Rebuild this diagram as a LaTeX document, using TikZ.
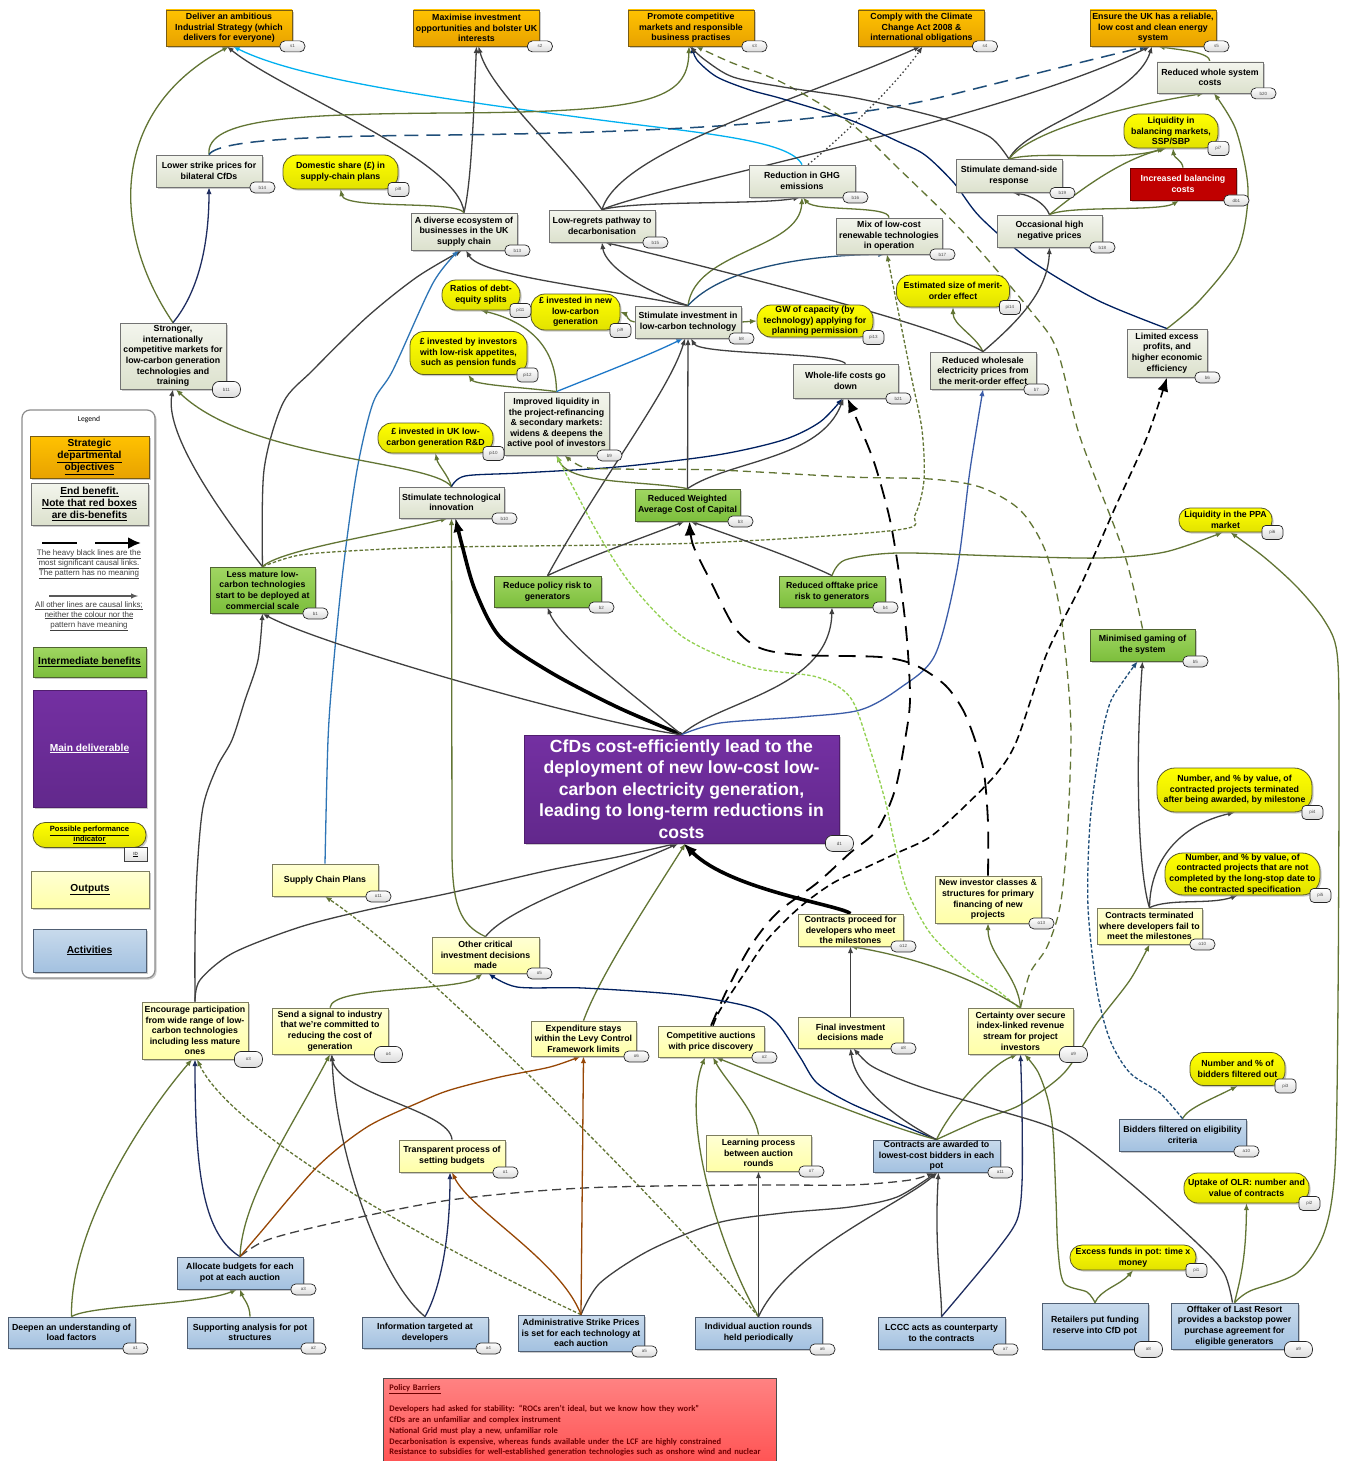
\documentclass[tikz,border=0pt]{standalone}
\usepackage{fontspec}
\setmainfont{Liberation Sans}
\newfontfamily\calibri{Carlito}
\usetikzlibrary{arrows.meta,shadows,backgrounds}

\begin{document}
\begin{tikzpicture}[x=1pt,y=-1pt]
            \definecolor{obj_top}{RGB}{255,194,0}
            \definecolor{obj_bot}{RGB}{232,162,0}
            \definecolor{obj_line}{RGB}{120,92,20}
            \definecolor{eb_top}{RGB}{243,245,237}
            \definecolor{eb_bot}{RGB}{220,225,205}
            \definecolor{eb_line}{RGB}{115,115,115}
            \definecolor{ib_top}{RGB}{160,214,98}
            \definecolor{ib_bot}{RGB}{124,190,60}
            \definecolor{ib_line}{RGB}{80,100,50}
            \definecolor{pi_top}{RGB}{255,255,0}
            \definecolor{pi_bot}{RGB}{226,226,0}
            \definecolor{pi_line}{RGB}{90,90,40}
            \definecolor{op_top}{RGB}{255,255,212}
            \definecolor{op_bot}{RGB}{255,255,168}
            \definecolor{op_line}{RGB}{125,125,95}
            \definecolor{ac_top}{RGB}{200,218,236}
            \definecolor{ac_bot}{RGB}{163,193,224}
            \definecolor{ac_line}{RGB}{80,95,115}
            \definecolor{db_fill}{RGB}{192,0,0}
            \definecolor{db_line}{RGB}{110,0,0}
            \definecolor{md_top}{RGB}{116,48,162}
            \definecolor{md_bot}{RGB}{98,40,140}
            \definecolor{md_line}{RGB}{80,30,110}
            \definecolor{pb_top}{RGB}{255,130,130}
            \definecolor{pb_bot}{RGB}{255,84,84}
            \definecolor{pb_text}{RGB}{110,0,0}
            \definecolor{c_dgray}{RGB}{64,64,64}
            \definecolor{c_olive}{RGB}{98,117,52}
            \definecolor{c_navy}{RGB}{31,45,96}
            \definecolor{c_dnavy}{RGB}{0,32,96}
            \definecolor{c_lblue}{RGB}{0,176,240}
            \definecolor{c_sblue}{RGB}{46,117,182}
            \definecolor{c_bblue}{RGB}{30,120,200}
            \definecolor{c_steel}{RGB}{31,78,121}
            \definecolor{c_mblue}{RGB}{59,92,168}
            \definecolor{c_brown}{RGB}{151,71,6}
            \definecolor{c_lgreen}{RGB}{146,208,80}
            \tikzstyle{cbox} = [rectangle, align=center, inner sep=1pt, minimum width=106, line width=0.8pt,
                font=\fontsize{8.8}{10.6}\selectfont\bfseries,
                drop shadow={shadow xshift=1.6pt, shadow yshift=-1.6pt, fill=black!40, opacity=0.5}]
            \tikzstyle{sobj} = [cbox, draw=obj_line, top color=obj_top, bottom color=obj_bot, minimum width=126, minimum height=36]
            \tikzstyle{eben} = [cbox, draw=eb_line, top color=eb_top, bottom color=eb_bot, minimum height=32]
            \tikzstyle{iben} = [cbox, draw=ib_line, top color=ib_top, bottom color=ib_bot, minimum height=32]
            \tikzstyle{dben} = [cbox, draw=db_line, fill=db_fill, text=white, minimum height=32]
            \tikzstyle{mdel} = [cbox, draw=md_line, top color=md_top, bottom color=md_bot, text=white,
                font=\fontsize{17.6}{21.5}\selectfont\bfseries]
            \tikzstyle{pind} = [cbox, draw=pi_line, rounded corners=14pt, top color=pi_top, bottom color=pi_bot]
            \tikzstyle{outp} = [cbox, draw=op_line, top color=op_top, bottom color=op_bot, minimum height=32]
            \tikzstyle{actv} = [cbox, draw=ac_line, top color=ac_top, bottom color=ac_bot, minimum width=127, minimum height=32]
            \tikzstyle{idt} = [draw=black!85, line width=0.7pt, rounded corners=5pt, top color=white, bottom color=black!14,
                minimum width=25, minimum height=11, inner sep=0pt, font=\fontsize{4.5}{5}\selectfont, text=black!70]
            \tikzstyle{legf} = [font=\fontsize{10.2}{12.3}\selectfont\bfseries]
            \tikzstyle{lnk} = [line width=1.3pt, -latex]
            \tikzstyle{hvy} = [line width=3.6pt, black, -latex]
            \tikzstyle{bigdash} = [line width=1.8pt, black, dash pattern=on 17pt off 10pt, -{Latex[length=14pt,width=11pt]}]
            \tikzstyle{meddash} = [line width=1.6pt, black, dash pattern=on 8pt off 4.5pt, -{Latex[length=14pt,width=11pt]}]
            \tikzstyle{dsh} = [dash pattern=on 8pt off 5pt]
            \tikzstyle{dtt} = [dash pattern=on 3.5pt off 2pt]
            \tikzstyle{longdsh} = [dash pattern=on 14pt off 8pt]
            \useasboundingbox (0,0) rectangle (1347,1461);

            % strategic objectives
            \node[sobj] (s1) at (229,28) {Deliver an ambitious\\Industrial Strategy (which\\delivers for everyone)};
            \node[sobj] (s2) at (476.5,28) {Maximise investment\\opportunities and bolster UK\\interests};
            \node[sobj] (s3) at (691,28) {Promote competitive\\markets and responsible\\business practises};
            \node[sobj] (s4) at (921.5,28) {Comply with the Climate\\Change Act 2008 \&\\international obligations};
            \node[sobj] (s5) at (1153,28) {Ensure the UK has a reliable,\\low cost and clean energy\\system};

            % benefits and indicators
            \node[eben, minimum height=31] (b20) at (1210,77.5) {Reduced whole system\\costs};
            \node[eben] (b14) at (209,171) {Lower strike prices for\\bilateral CfDs};
            \node[pind, minimum width=115, minimum height=34] (pi8) at (340.5,172) {Domestic share (£) in\\supply-chain plans};
            \node[eben, minimum height=37] (b13) at (464,231.5) {A diverse ecosystem of\\businesses in the UK\\supply chain};
            \node[eben] (b15) at (602,226) {Low-regrets pathway to\\decarbonisation};
            \node[eben] (b16) at (802,181) {Reduction in GHG\\emissions};
            \node[eben, minimum height=36] (b17) at (889,236) {Mix of low-cost\\renewable technologies\\in operation};
            \node[eben, minimum height=33] (b19) at (1009,176) {Stimulate demand-side\\response};
            \node[pind, minimum width=94, minimum height=34] (pi7) at (1171,131) {Liquidity in\\balancing markets,\\SSP/SBP};
            \node[dben] (db1) at (1183,184) {Increased balancing\\costs};
            \node[eben, minimum width=105] (b18) at (1049.5,231) {Occasional high\\negative prices};
            \node[pind, minimum width=113, minimum height=32] (pi14) at (953,291) {Estimated size of merit-\\order effect};
            \node[eben, minimum height=37] (b7) at (983,370.5) {Reduced wholesale\\electricity prices from\\the merit-order effect};
            \node[eben, minimum width=80, minimum height=48] (b6) at (1167,353) {Limited excess\\profits, and\\higher economic\\efficiency};
            \node[eben, minimum height=66] (b11) at (173,356) {Stronger,\\internationally\\competitive markets for\\low-carbon generation\\technologies and\\training};
            \node[pind, minimum width=78, minimum height=30] (pi11) at (481,295) {Ratios of debt-\\equity splits};
            \node[pind, minimum width=89, minimum height=36] (pi9) at (575.5,312) {£ invested in new\\low-carbon\\generation};
            \node[eben] (b8) at (688,322) {Stimulate investment in\\low-carbon technology};
            \node[pind, minimum width=116, minimum height=32] (pi13) at (815,321) {GW of capacity (by\\technology) applying for\\planning permission};
            \node[pind, minimum width=117, minimum height=43] (pi12) at (468.5,353) {£ invested by investors\\with low-risk appetites,\\such as pension funds};
            \node[eben, minimum width=105, minimum height=34] (b21) at (845.5,381) {Whole-life costs go\\down};
            \node[eben, minimum width=105, minimum height=63] (b9) at (556.5,423.5) {Improved liquidity in\\the project-refinancing\\\& secondary markets:\\widens \& deepens the\\active pool of investors};
            \node[pind, minimum width=115, minimum height=30] (pi10) at (435.5,438) {£ invested in UK low-\\carbon generation R\&D};
            \node[eben, minimum width=105, minimum height=31] (b10) at (451.5,502.5) {Stimulate technological\\innovation};
            \node[iben, minimum width=105] (b3) at (687.5,505) {Reduced Weighted\\Average Cost of Capital};
            \node[pind, minimum width=93, minimum height=24, rounded corners=11pt] (pi6) at (1225.5,520) {Liquidity in the PPA\\market};
            \node[iben, minimum width=105, minimum height=46] (b1) at (262.5,590) {Less mature low-\\carbon technologies\\start to be deployed at\\commercial scale};
            \node[iben, minimum width=107, minimum height=31] (b2) at (547.5,591.5) {Reduce policy risk to\\generators};
            \node[iben, minimum height=31] (b4) at (832,591.5) {Reduced offtake price\\risk to generators};
            \node[iben, minimum width=105] (b5) at (1142.5,645) {Minimised gaming of\\the system};
            \node[pind, minimum width=155, minimum height=44, rounded corners=18pt] (pi4) at (1234.5,790) {Number, and \% by value, of\\contracted projects terminated\\after being awarded, by milestone};
            \node[mdel, minimum width=315, minimum height=108] (d1) at (681.5,789) {CfDs cost-efficiently lead to the\\deployment of new low-cost low-\\carbon electricity generation,\\leading to long-term reductions in\\costs};
            \node[pind, minimum width=155, minimum height=42, rounded corners=18pt] (pi5) at (1242.5,874) {Number, and \% by value, of\\contracted projects that are not\\completed by the long-stop date to\\the contracted specification};

            % outputs
            \node[outp] (o11) at (325,880) {Supply Chain Plans};
            \node[outp, minimum height=47] (o13) at (988,899.5) {New investor classes \&\\structures for primary\\financing of new\\projects};
            \node[outp, minimum width=105] (o12) at (850.5,930) {Contracts proceed for\\developers who meet\\the milestones};
            \node[outp, minimum width=105, minimum height=36] (o10) at (1149.5,926) {Contracts terminated\\where developers fail to\\meet the milestones};
            \node[outp, minimum width=107, minimum height=36] (o5) at (485.5,955) {Other critical\\investment decisions\\made};
            \node[outp, minimum height=57] (o3) at (195,1030.5) {Encourage participation\\from wide range of low-\\carbon technologies\\including less mature\\ones};
            \node[outp, minimum width=116, minimum height=46] (o4) at (330,1031) {Send a signal to industry\\that we're committed to\\reducing the cost of\\generation};
            \node[outp, minimum width=105, minimum height=35] (o6) at (583.5,1038.5) {Expenditure stays\\within the Levy Control\\Framework limits};
            \node[outp, minimum height=31] (o2) at (711,1041.5) {Competitive auctions\\with price discovery};
            \node[outp, minimum width=105, minimum height=31] (o8) at (850.5,1032.5) {Final investment\\decisions made};
            \node[outp, minimum width=105, minimum height=46] (o9) at (1020.5,1031) {Certainty over secure\\index-linked revenue\\stream for project\\investors};
            \node[pind, minimum width=95, minimum height=33] (pi3) at (1237.5,1069) {Number and \% of\\bidders filtered out};
            \node[outp] (o1) at (452,1156) {Transparent process of\\setting budgets};
            \node[outp, minimum width=105, minimum height=36] (o7) at (758.5,1153) {Learning process\\between auction\\rounds};

            % activities
            \node[actv] (a10) at (1182.5,1135) {Bidders filtered on eligibility\\criteria};
            \node[actv] (a11) at (936.5,1156) {Contracts are awarded to\\lowest-cost bidders in each\\pot};
            \node[pind, minimum width=125, minimum height=30] (pi2) at (1246.5,1188) {Uptake of OLR: number and\\value of contracts};
            \node[pind, minimum width=126, minimum height=25, rounded corners=12pt] (pi1) at (1133,1257.5) {Excess funds in pot: time x\\money};
            \node[actv, minimum width=126] (a3) at (240,1273) {Allocate budgets for each\\pot at each auction};
            \node[actv, minimum height=31] (a1) at (71.5,1332.5) {Deepen an understanding of\\load factors};
            \node[actv, minimum width=126, minimum height=31] (a2) at (250,1332.5) {Supporting analysis for pot\\structures};
            \node[actv, minimum width=126, minimum height=31] (a4) at (425,1332.5) {Information targeted at\\developers};
            \node[actv, minimum width=126, minimum height=36] (a5) at (581,1333) {Administrative Strike Prices\\is set for each technology at\\each auction};
            \node[actv] (a6) at (758.5,1333) {Individual auction rounds\\held periodically};
            \node[actv] (a7) at (941.5,1333) {LCCC acts as counterparty\\to the contracts};
            \node[actv, minimum width=106, minimum height=46] (a8) at (1095,1326) {Retailers put funding\\reserve into CfD pot};
            \node[actv, minimum height=46] (a9) at (1234.5,1326) {Offtaker of Last Resort\\provides a backstop power\\purchase agreement for\\eligible generators};

            % id tags
            \foreach \n in {s1,s2,s3,s4,s5,b1,b2,b3,b4,b5,b6,b7,b8,b9,b10,b13,b14,b15,b16,b17,b18,b19,b20,b21,db1,
                o1,o2,o5,o6,o7,o8,o10,o11,o12,o13,a1,a2,a3,a4,a5,a6,a7,a10,a11}
                \node[idt] (t\n) at (\n.south east) {\n};
            \foreach \n in {b11,o3,o4,o9,a8,a9,d1}
                \node[idt, minimum width=28, minimum height=16, rounded corners=7pt] (t\n) at (\n.south east) {\n};
            \foreach \n in {pi1,pi2,pi3,pi4,pi5,pi6,pi7,pi8,pi9,pi10,pi11,pi12,pi13,pi14}
                \node[idt, minimum width=21, minimum height=14, rounded corners=4pt] (t\n) at (\n.south east) {\n};

            % legend
            \node[draw=black!45, line width=1.2pt, fill=white, rounded corners=8pt, minimum width=133, minimum height=568,
                drop shadow={shadow xshift=1.6pt, shadow yshift=-1.6pt, fill=black!40, opacity=0.5}] (leg) at (88.5,694) {};
            \node[font=\calibri\fontsize{7.6}{9}\selectfont] (legt) at (89,420) {Legend};
            \node[sobj, legf, minimum width=119, minimum height=42] (lg1) at (89.5,457) {\underline{Strategic}\\\underline{departmental}\\\underline{objectives}};
            \node[eben, legf, minimum width=117, minimum height=42] (lg2) at (89.5,504) {\underline{End benefit.}\\\underline{Note that red boxes}\\\underline{are dis-benefits}};
            \coordinate (hv1) at (42,543);
            \coordinate (hv2) at (77,543);
            \coordinate (ha1) at (95,543);
            \coordinate (ha2) at (141,543);
            \draw[line width=2.6pt] (hv1) -- (hv2);
            \draw[line width=2.6pt, -{Latex[length=13pt,width=12pt]}] (ha1) -- (ha2);
            \node[align=center, text=black!75, font=\fontsize{8}{10}\selectfont] (lgh) at (89,564) {\underline{The heavy black lines are the}\\\underline{most significant causal links.}\\\underline{The pattern has no meaning}};
            \coordinate (tn1) at (49,596);
            \coordinate (tn2) at (138,596);
            \draw[line width=1.4pt, black!65, -latex] (tn1) -- (tn2);
            \node[align=center, text=black!75, font=\fontsize{8}{10}\selectfont] (lgt) at (89,616) {\underline{All other lines are causal links;}\\\underline{neither the colour nor the}\\\underline{pattern have meaning}};
            \node[iben, legf, minimum width=113, minimum height=30] (lg3) at (89.5,662) {\underline{Intermediate benefits}};
            \node[mdel, legf, minimum width=113, minimum height=117] (lg4) at (89.5,748.5) {\underline{Main deliverable}};
            \node[pind, minimum width=113, minimum height=25, rounded corners=12pt, font=\fontsize{7.6}{9.5}\selectfont\bfseries] (lg5) at (89.5,835) {\underline{Possible performance}\\\underline{indicator}};
            \node[draw=black!75, line width=0.7pt, top color=white, bottom color=black!12, minimum width=23, minimum height=14,
                inner sep=0pt, font=\fontsize{4.5}{5}\selectfont] (lgid) at (135.5,854.5) {\underline{ID}};
            \node[outp, legf, minimum width=118, minimum height=37] (lg6) at (90,889.5) {\underline{Outputs}};
            \node[actv, legf, minimum width=113, minimum height=43] (lg7) at (89.5,950.5) {\underline{Activities}};

            % policy barriers
            \node[draw=black!70, line width=0.8pt, top color=pb_top, bottom color=pb_bot, anchor=north west,
                minimum width=393, minimum height=84, text width=381, inner xsep=6pt, align=left, text=pb_text,
                font=\calibri\bfseries\fontsize{8.5}{10.7}\selectfont] (pb) at (383,1378)
                {\underline{Policy Barriers}\\[10.7pt]
                 Developers had asked for stability: “ROCs aren’t ideal, but we know how they work”\\
                 CfDs are an unfamiliar and complex instrument\\
                 National Grid must play a new, unfamiliar role\\
                 Decarbonisation is expensive, whereas funds available under the LCF are highly constrained\\
                 Resistance to subsidies for well-established generation technologies such as onshore wind and nuclear};

            \begin{pgfonlayer}{background}
            \fill[white] (0,0) rectangle (1347,1461);
            % links to objectives
            \draw[lnk, c_olive] (b11.north) .. controls (110,230) and (110,110) .. (s1.south);
            \draw[lnk, c_navy] (b11.north) .. controls (200,290) and (209,240) .. (b14.south);
            \draw[lnk, c_dgray] (b13.north) .. controls (460,160) and (280,90) .. ([xshift=-2]s1.south);
            \draw[lnk, c_lblue] (b16.north) .. controls (790,140) and (700,133) .. (600,120) .. controls (450,100) and (300,80) .. ([xshift=4]s1.south);
            \draw[lnk, c_dgray] (b13.north) .. controls (472,180) and (474,100) .. (s2.south);
            \draw[lnk, c_dgray] (b15.north) .. controls (560,150) and (490,90) .. ([xshift=2]s2.south);
            \draw[lnk, c_olive] (b14.north) .. controls (205,118) and (300,114) .. (450,113) .. controls (650,112) and (688,100) .. ([xshift=-2]s3.south);
            \draw[lnk, c_steel, longdsh, line width=1.5pt] (b14.north) .. controls (220,137) and (350,136) .. (450,135) .. controls (700,132) and (850,120) .. (950,95) .. controls (1050,70) and (1110,55) .. ([xshift=-6]s5.south);
            \draw[lnk, c_dgray] (b15.north) .. controls (620,150) and (800,100) .. ([xshift=-1]s4.south);
            \draw[lnk, c_dgray] (b15.north) .. controls (660,185) and (1000,120) .. ([xshift=-3]s5.south);
            \draw[lnk, c_dgray] (b15.north) .. controls (640,200) and (760,205) .. ([xshift=-2]b16.south);
            \draw[lnk, c_dgray, dash pattern=on 1.5pt off 2.5pt] ([xshift=6]b16.north) .. controls (850,130) and (900,80) .. ([xshift=1]s4.south);
            \draw[lnk, c_olive] (b17.north) .. controls (889,205) and (815,212) .. ([xshift=1]b16.south);
            \draw[lnk, c_olive, dsh] plot[smooth] coordinates {(b5.north) (1124,553) (1080,437) (1057,350) (1030,310) (964,233) (897,167) (850,123) (783,83) (730,62) ([xshift=5]s3.south)};
            \draw[lnk, c_dnavy] plot[smooth] coordinates {(b6.north) (1097,300) (1030,260) (980,217) (954,183) (925,155) (897,141) (850,120) (783,99) (750,90) (717,77) (697,60) ([xshift=1]s3.south)};
            \draw[lnk, c_dgray] plot[smooth] coordinates {(b19.north) (990,137) (947,120) (897,107) (850,97) (783,87) (733,77) (705,60) ([xshift=-1]s3.south)};
            \draw[lnk, c_dgray] (b19.north) .. controls (1025,125) and (1135,100) .. ([xshift=-1]s5.south);
            \draw[lnk, c_olive] (b19.north) .. controls (1030,130) and (1130,105) .. ([xshift=-6]b20.south);
            \draw[lnk, c_olive] (b19.north) .. controls (1040,150) and (1120,162) .. ([xshift=-7]pi7.south);
            \draw[lnk, c_olive] (b18.north) .. controls (1080,190) and (1120,160) .. ([xshift=-5]pi7.south);
            \draw[lnk, c_dgray] (b18.north) .. controls (1045,203) and (1030,195) .. ([xshift=4]b19.south);
            \draw[lnk, c_olive] (b18.north) .. controls (1070,205) and (1160,212) .. ([xshift=-4]db1.south);
            \draw[lnk, c_olive] (db1.north) .. controls (1182,160) and (1174,158) .. ([xshift=2]pi7.south);
            \draw[lnk, c_olive] (b20.north) .. controls (1210,52) and (1180,50) .. ([xshift=5]s5.south);
            \draw[lnk, c_olive] plot[smooth] coordinates {(b6.north) (1200,300) (1238,250) (1248,190) (1236,130) ([xshift=4]b20.south)};
            % benefits
            \draw[lnk, c_dgray] (b7.north) .. controls (1020,320) and (1048,290) .. (b18.south);
            \draw[lnk, c_olive] (b7.north) .. controls (975,335) and (953,325) .. (pi14.south);
            \draw[lnk, c_dgray] (b8.north) .. controls (640,290) and (605,265) .. (b15.south);
            \draw[lnk, c_dgray] (b8.north) .. controls (580,285) and (480,275) .. ([xshift=2]b13.south);
            \draw[lnk, c_olive] (b8.north) .. controls (695,250) and (800,250) .. (b16.south);
            \draw[lnk, c_steel] (b8.north) .. controls (720,270) and (800,255) .. ([xshift=-4]b17.south);
            \draw[lnk, c_olive] (b8.west) .. controls (628,322) and (626,314) .. (pi9.east);
            \draw[lnk, c_olive] (b8.east) -- (pi13.west);
            \draw[lnk, c_dgray] (b7.north) .. controls (940,325) and (700,265) .. ([xshift=3]b15.south);
            \draw[lnk, c_olive] (b13.north) .. controls (455,200) and (345,210) .. (pi8.south);
            \draw[lnk, c_olive] (b9.north) .. controls (530,388) and (475,385) .. (pi12.south);
            \draw[lnk, c_olive] (b9.north) .. controls (556,340) and (520,320) .. (pi11.south);
            \draw[lnk, c_bblue] (b9.north) .. controls (590,378) and (650,355) .. ([xshift=-5]b8.south);
            \draw[lnk, c_dgray] (b21.north) .. controls (835,352) and (700,355) .. ([xshift=3]b8.south);
            \draw[lnk, c_dgray] plot[smooth] coordinates {(b1.north) (264,470) (283,403) (313,370) (367,317) (417,277) ([xshift=-2]b13.south)};
            \draw[lnk, c_sblue] plot[smooth] coordinates {(o11.north) (328,740) (333,670) (343,570) (357,470) (373,403) (393,370) (433,283) ([xshift=-5]b13.south)};
            \draw[lnk, c_dgray] (b1.north) .. controls (210,500) and (165,430) .. (b11.south);
            \draw[lnk, c_olive] (b10.north) .. controls (430,460) and (250,460) .. ([xshift=3]b11.south);
            \draw[lnk, c_olive] (b10.north) .. controls (448,475) and (438,465) .. (pi10.south);
            \draw[lnk, c_dnavy] plot[smooth] coordinates {(b10.north) (465,476) (520,473) (617,467) (717,455) (783,440) (820,422) ([xshift=-3]b21.south)};
            \draw[lnk, c_olive] (b1.north) .. controls (280,550) and (380,535) .. ([xshift=-4]b10.south);
            \draw[lnk, c_olive, dtt] plot[smooth] coordinates {(b1.north) (300,555) (367,550) (450,547) (700,543) (897,530) (915,515) (924,480) (922,430) (912,380) (900,320) ([xshift=-2]b17.south)};
            % from the main deliverable
            \draw[hvy] plot[smooth] coordinates {(d1.north) (617,707) (550,672) (500,637) (475,590) (462,545) ([xshift=4]b10.south)};
            \draw[lnk, c_dgray] (d1.north) .. controls (600,725) and (320,645) .. (b1.south);
            \draw[lnk, c_dgray] (d1.north) .. controls (640,700) and (560,640) .. (b2.south);
            \draw[lnk, c_dgray] (d1.north) .. controls (720,700) and (830,690) .. (b4.south);
            \draw[lnk, c_mblue] plot[smooth] coordinates {(d1.north) (720,723) (800,717) (860,710) (900,688) (935,655) (957,570) (970,470) (b7.south)};
            \draw[lnk, c_dgray] (b2.north) .. controls (580,560) and (650,535) .. ([xshift=-3]b3.south);
            \draw[lnk, c_dgray] (b2.north) .. controls (600,480) and (670,390) .. ([xshift=-3]b8.south);
            \draw[lnk, c_dgray] (b4.north) .. controls (800,560) and (730,535) .. ([xshift=3]b3.south);
            \draw[lnk, c_olive] plot[smooth] coordinates {(b4.north) (845,560) (897,553) (1000,556) (1100,558) (1165,552) ([xshift=-3]pi6.south)};
            \draw[lnk, c_dgray] (b3.north) -- (b8.south);
            \draw[lnk, c_olive] (b3.north) .. controls (640,480) and (570,485) .. (b9.south);
            \draw[lnk, c_dgray] (b3.north) .. controls (730,460) and (820,460) .. ([xshift=-2]b21.south);
            % outputs
            \draw[bigdash] plot[smooth] coordinates {(o13.north) (988,823) (984,773) (975,740) (963,710) (945,685) (915,665) (880,657) (800,655) (760,648) (735,628) (710,580) (693,545) ([xshift=2]b3.south)};
            \draw[bigdash, dash pattern=on 15pt off 9pt] plot[smooth] coordinates {(o2.north) (727,990) (750,947) (777,913) (817,883) (850,853) (877,830) (895,790) (905,740) (910,700) (907,640) (900,580) (890,520) (875,465) (860,427) ([xshift=2]b21.south)};
            \draw[meddash] plot[smooth] coordinates {([xshift=2]o2.north) (720,1010) (740,980) (767,940) (800,907) (833,883) (867,867) (897,853) (930,837) (964,807) (997,773) (1017,740) (1047,653) (1080,587) (1114,510) (1147,437) (b6.south)};
            \draw[lnk, c_lgreen, dtt] plot[smooth] coordinates {([xshift=-2]o9.north) (997,990) (964,967) (930,933) (907,890) (895,845) (885,800) (867,740) (850,697) (817,677) (750,667) (683,637) (633,587) (600,537) (573,487) (b9.south)};
            \draw[lnk, c_olive, dsh] plot[smooth] coordinates {(o9.north) (1030,973) (1047,947) (1060,907) (1067,840) (1071,740) (1068,680) (1060,610) (1045,550) (1020,510) (980,487) (930,479) (850,477) (717,470) (617,469) (583,467) ([xshift=8]b9.south)};
            \draw[lnk, c_olive] (o9.north) .. controls (1018,975) and (988,955) .. (o13.south);
            \draw[lnk, c_olive] (o9.north) .. controls (960,970) and (900,955) .. (o12.south);
            \draw[hvy] (o12.north) .. controls (840,905) and (730,890) .. ([xshift=2]d1.south);
            \draw[lnk, c_dgray] (o8.north) -- (o12.south);
            \draw[lnk, c_dgray] (o5.north) .. controls (510,905) and (620,870) .. ([xshift=-3]d1.south);
            \draw[lnk, c_dgray] plot[smooth] coordinates {(o3.north) (200,980) (233,953) (300,927) (367,910) (450,893) (550,870) (617,857) ([xshift=-5]d1.south)};
            \draw[lnk, c_dgray] plot[smooth] coordinates {(o3.north) (195,940) (197,873) (203,807) (217,767) (232,740) (245,700) (258,660) (b1.south)};
            \draw[lnk, c_olive] (o6.north) .. controls (600,975) and (650,900) .. ([xshift=4]d1.south);
            \draw[lnk, c_olive] (o5.north) .. controls (460,925) and (452,905) .. (452,850) -- (b10.south);
            \draw[lnk, c_olive, dtt] (a6.north) .. controls (650,1190) and (420,960) .. (o11.south);
            \draw[lnk, c_olive, dtt] (a5.north) .. controls (420,1240) and (230,1130) .. ([xshift=2]o3.south);
            \draw[lnk, c_dnavy] plot[smooth] coordinates {(a11.north) (897,1123) (850,1103) (817,1083) (800,1057) (777,1023) (750,1007) (683,995) (583,988) (517,987) ([xshift=3]o5.south)};
            \draw[lnk, c_olive] (a11.north) .. controls (880,1125) and (760,1075) .. ([xshift=5]o2.south);
            \draw[lnk, c_olive] (a11.north) .. controls (950,1110) and (990,1065) .. ([xshift=-3]o9.south);
            \draw[lnk, c_olive] plot[smooth] coordinates {(a11.north) (980,1120) (1020,1105) (1064,1073) (1097,1023) (1130,980) (o10.south)};
            \draw[lnk, c_dgray] (a11.north) .. controls (890,1115) and (855,1085) .. (o8.south);
            \draw[lnk, c_dgray] (o10.north) .. controls (1140,880) and (1134,780) .. (b5.south);
            \draw[lnk, c_dgray] (o10.north) .. controls (1150,860) and (1180,825) .. (pi4.south);
            \draw[lnk, c_dgray] (o10.north) .. controls (1170,898) and (1210,905) .. ([xshift=-5]pi5.south);
            % activities
            \draw[lnk, c_dgray, dash pattern=on 9pt off 5pt] plot[smooth] coordinates {(a3.north) (267,1240) (333,1223) (450,1200) (583,1188) (750,1185) (850,1185) (910,1180) ([xshift=-3]a11.south)};
            \draw[lnk, c_dgray] plot[smooth] coordinates {(a5.north) (600,1283) (650,1250) (717,1223) (783,1213) (850,1207) (897,1197) (a11.south)};
            \draw[lnk, c_dgray] (a6.north) .. controls (790,1250) and (900,1205) .. ([xshift=1]a11.south);
            \draw[lnk, c_dgray] (a7.north) .. controls (942,1290) and (934,1250) .. ([xshift=2]a11.south);
            \draw[lnk, c_navy] plot[smooth] coordinates {(a7.north) (964,1290) (997,1250) (1017,1220) (1022,1183) (1022,1110) (o9.south)};
            \draw[lnk, c_olive] (a8.north) .. controls (1100,1290) and (1120,1285) .. (pi1.south);
            \draw[lnk, c_olive] plot[smooth] coordinates {(a8.north) (1087,1292) (1064,1283) (1058,1250) (1056,1200) (1053,1133) (1048,1100) (1038,1072) ([xshift=4]o9.south)};
            \draw[lnk, c_olive] (a9.north) .. controls (1240,1280) and (1246,1260) .. (pi2.south);
            \draw[lnk, c_olive] plot[smooth] coordinates {(a9.north) (1250,1291) (1297,1273) (1324,1233) (1335,1167) (1338,1000) (1339,740) (1337,653) (1324,620) (1297,587) (1264,557) ([xshift=5]pi6.south)};
            \draw[lnk, c_dgray] plot[smooth] coordinates {([xshift=-2]a9.north) (1224,1273) (1197,1243) (1130,1183) (1064,1133) (997,1110) (930,1090) (897,1078) (870,1065) ([xshift=3]o8.south)};
            \draw[lnk, c_olive] (a10.north) .. controls (1188,1108) and (1210,1100) .. (pi3.south);
            \draw[lnk, c_steel, dtt] plot[smooth] coordinates {(a10.north) (1160,1093) (1130,1073) (1110,1040) (1097,990) (1088,907) (1090,823) (1100,745) (1110,703) (1124,680) ([xshift=-5]b5.south)};
            \draw[lnk, c_olive] (a1.north) .. controls (90,1305) and (200,1305) .. ([xshift=-3]a3.south);
            \draw[lnk, c_olive] (a1.north) .. controls (70,1230) and (140,1120) .. ([xshift=-3]o3.south);
            \draw[lnk, c_olive] (a2.north) .. controls (250,1305) and (243,1298) .. (a3.south);
            \draw[lnk, c_navy] (a3.north) .. controls (205,1235) and (195,1180) .. (o3.south);
            \draw[lnk, c_olive] (a3.north) .. controls (242,1200) and (290,1130) .. (o4.south);
            \draw[lnk, c_brown] plot[smooth] coordinates {(a3.north) (260,1233) (317,1167) (367,1127) (420,1102) (450,1090) (500,1077) (550,1067) ([xshift=-3]o6.south)};
            \draw[lnk, c_brown] (a5.north) -- (o6.south);
            \draw[lnk, c_brown] (a5.north) .. controls (560,1260) and (470,1210) .. (o1.south);
            \draw[lnk, c_navy] (a4.north) .. controls (440,1290) and (450,1240) .. ([xshift=-2]o1.south);
            \draw[lnk, c_dgray] (a4.north) .. controls (380,1280) and (335,1150) .. ([xshift=2]o4.south);
            \draw[lnk, c_dgray] (o1.north) .. controls (450,1110) and (340,1095) .. ([xshift=1]o4.south);
            \draw[lnk, c_olive] (o4.north) .. controls (332,985) and (460,992) .. ([xshift=-3]o5.south);
            \draw[lnk, c_olive] (o7.north) .. controls (755,1110) and (725,1080) .. ([xshift=2]o2.south);
            \draw[lnk, c_olive] (a6.north) .. controls (720,1250) and (680,1120) .. ([xshift=-6]o2.south);
            \draw[lnk, c_dgray] (a6.north) -- (o7.south);
            \end{pgfonlayer}
        \end{tikzpicture}
\end{document}
